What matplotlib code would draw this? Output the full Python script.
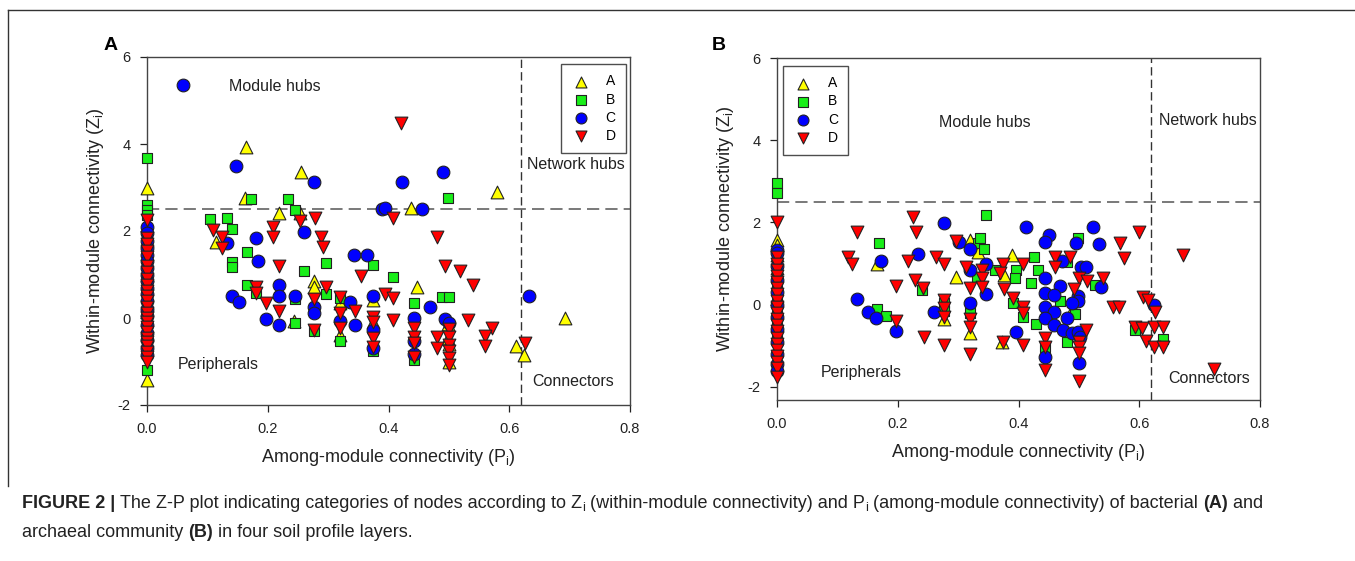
import matplotlib
matplotlib.use("Agg")
import matplotlib.pyplot as plt
from matplotlib.lines import Line2D
from matplotlib.transforms import IdentityTransform

plt.rcParams['font.family'] = ['Liberation Sans', 'DejaVu Sans']
plt.rcParams['mathtext.fontset'] = 'custom'
plt.rcParams['mathtext.rm'] = 'Liberation Sans'
plt.rcParams['mathtext.it'] = 'Liberation Sans'

# ---------------- Panel A data (bacteria) ----------------
a_A_P = [0, 0, 0, 0, 0, 0,
         0.164, 0.255, 0.163, 0.219, 0.253, 0.115, 0.277, 0.277, 0.320, 0.244, 0.375, 0.375,
         0.320, 0.437, 0.579, 0.448, 0.499, 0.499, 0.500, 0.500, 0.693, 0.611, 0.624]
a_A_Z = [2.98, 1.80, 1.00, 0.30, -0.40, -1.43,
         3.92, 3.36, 2.75, 2.41, 2.41, 1.75, 0.86, 0.71, 0.34, -0.06, 0.41, -0.10,
         -0.40, 2.54, 2.90, 0.71, -0.14, -0.47, -0.60, -1.00, -0.01, -0.64, -0.85]

a_B_P = [0, 0, 0, 0, 0, 0, 0, 0, 0,
         0.172, 0.234, 0.245, 0.104, 0.132, 0.141, 0.165, 0.141, 0.141, 0.260, 0.297, 0.374,
         0.165, 0.180, 0.245, 0.277, 0.297, 0.320, 0.320, 0.407, 0.245, 0.375,
         0.498, 0.443, 0.488, 0.501, 0.443]
a_B_Z = [3.67, 2.60, 2.48, 2.37, 0.95, 0.55, 0.10, -0.60, -1.20,
         2.74, 2.74, 2.48, 2.27, 2.31, 2.05, 1.52, 1.28, 1.18, 1.09, 1.26, 1.22,
         0.76, 0.57, 0.43, -0.31, 0.55, 0.45, -0.54, 0.95, -0.11, -0.77,
         2.75, 0.34, 0.49, 0.49, -0.97]

a_C_P = [0, 0, 0, 0, 0, 0, 0, 0, 0, 0, 0, 0, 0, 0, 0, 0, 0, 0, 0,
         0.059, 0.148, 0.277, 0.423, 0.390, 0.394, 0.260, 0.180, 0.132, 0.184, 0.343, 0.364,
         0.218, 0.141, 0.152, 0.218, 0.245, 0.277, 0.277, 0.197, 0.218, 0.320, 0.336, 0.345,
         0.375, 0.375, 0.375, 0.491, 0.456, 0.468, 0.443, 0.443, 0.443, 0.494, 0.501, 0.633]
a_C_Z = [2.10, 1.95, 1.78, 1.60, 1.45, 1.30, 1.15, 1.00, 0.85, 0.70, 0.55, 0.40, 0.20, 0.05,
         -0.15, -0.35, -0.50, -0.70, -0.85,
         5.36, 3.49, 3.12, 3.12, 2.51, 2.53, 1.98, 1.85, 1.72, 1.32, 1.45, 1.45,
         0.76, 0.51, 0.37, 0.51, 0.51, 0.25, 0.11, -0.03, -0.16, -0.06, 0.37, -0.16,
         0.51, -0.28, -0.70, 3.36, 2.51, 0.25, -0.01, -0.54, -0.83, -0.03, -0.12, 0.51]

a_D_P = [0, 0, 0, 0, 0, 0, 0, 0, 0, 0, 0, 0, 0, 0, 0, 0, 0, 0, 0, 0, 0, 0, 0, 0,
         0.110, 0.124, 0.124, 0.208, 0.208, 0.219, 0.253, 0.278, 0.289, 0.291, 0.354,
         0.180, 0.180, 0.197, 0.218, 0.277, 0.297, 0.277, 0.320, 0.320, 0.320, 0.345,
         0.375, 0.375, 0.375, 0.375, 0.395, 0.408, 0.408, 0.407, 0.421,
         0.480, 0.494, 0.518, 0.540, 0.443, 0.443, 0.443, 0.443, 0.480, 0.480,
         0.501, 0.501, 0.501, 0.501, 0.501, 0.501, 0.531, 0.571, 0.560, 0.560, 0.626]
a_D_Z = [2.25, 1.85, 1.70, 1.55, 1.40, 1.20, 1.05, 0.90, 0.75, 0.62, 0.50, 0.38, 0.25,
         0.12, 0.00, -0.10, -0.20, -0.32, -0.45, -0.55, -0.65, -0.78, -0.90, -1.00,
         2.02, 1.87, 1.62, 2.09, 1.86, 1.20, 2.24, 2.29, 1.86, 1.63, 0.97,
         0.72, 0.57, 0.35, 0.15, 0.43, 0.72, -0.28, 0.49, 0.11, -0.24, 0.15,
         0.03, -0.09, -0.47, -0.66, 0.55, 0.45, -0.05, 2.29, 4.49,
         1.87, 1.20, 1.08, 0.77, -0.24, -0.43, -0.58, -0.89, -0.43, -0.70,
         -0.26, -0.43, -0.62, -0.77, -0.93, -1.08, -0.05, -0.24, -0.41, -0.64, -0.58]

# ---------------- Panel B data (archaea) ----------------
b_A_P = [0, 0, 0, 0, 0, 0,
         0.165, 0.296, 0.277, 0.320, 0.333, 0.320, 0.390, 0.376, 0.373, 0.491]
b_A_Z = [1.57, 1.45, 1.20, 0.90, 0.20, -0.50,
         0.99, 0.68, -0.36, 1.57, 1.29, -0.68, 1.21, 0.72, -0.90, -0.09]

b_B_P = [0, 0, 0, 0, 0, 0, 0, 0, 0,
         0.169, 0.165, 0.180, 0.240, 0.277, 0.277, 0.320, 0.333, 0.337, 0.343, 0.346,
         0.331, 0.361, 0.396, 0.394, 0.425, 0.433, 0.420, 0.499, 0.481, 0.526, 0.391,
         0.408, 0.469, 0.494, 0.429, 0.480, 0.593, 0.640, 0.444]
b_B_Z = [2.95, 2.71, 1.10, 0.80, 0.50, 0.15, -0.10, -0.40, -0.70,
         1.51, -0.10, -0.28, 0.36, 0.03, -0.15, -0.21, 1.51, 1.63, 1.35, 2.18,
         0.68, 0.84, 0.84, 0.66, 1.17, 0.84, 0.52, 1.61, 1.04, 0.48, 0.03,
         -0.29, 0.09, -0.23, -0.48, -0.92, -0.62, -0.84, -1.02]

b_C_P = [0, 0, 0, 0, 0, 0, 0, 0, 0, 0, 0, 0,
         0.172, 0.132, 0.151, 0.164, 0.197, 0.234, 0.276, 0.260, 0.302, 0.320, 0.320,
         0.346, 0.346, 0.320, 0.396, 0.413, 0.524, 0.451, 0.444, 0.496, 0.533, 0.472,
         0.503, 0.512, 0.444, 0.536, 0.468, 0.444, 0.459, 0.499, 0.499, 0.488, 0.625,
         0.444, 0.459, 0.444, 0.459, 0.480, 0.473, 0.488, 0.499, 0.502, 0.501, 0.444]
b_C_Z = [1.33, 1.25, 0.95, 0.60, 0.30, 0.00, -0.30, -0.60, -0.90, -1.20, -1.45, -1.62,
         1.07, 0.14, -0.17, -0.32, -0.64, 1.22, 1.99, -0.17, 1.53, 1.35, 0.84,
         1.00, 0.27, 0.03, -0.66, 1.88, 1.90, 1.69, 1.53, 1.49, 1.47, 1.07,
         0.91, 0.91, 0.66, 0.44, 0.45, 0.29, 0.23, 0.21, 0.09, 0.03, -0.01,
         -0.05, -0.17, -0.32, -0.50, -0.33, -0.62, -0.70, -0.66, -0.78, -1.41, -1.27]

b_D_P = [0, 0, 0, 0, 0, 0, 0, 0, 0, 0, 0, 0, 0, 0, 0, 0, 0, 0, 0, 0, 0,
         0.132, 0.117, 0.124, 0.197, 0.197, 0.225, 0.230, 0.217, 0.229, 0.242, 0.243,
         0.264, 0.277, 0.277, 0.277, 0.277, 0.277, 0.296, 0.313, 0.339, 0.339, 0.339,
         0.320, 0.320, 0.320, 0.320, 0.375, 0.369, 0.376, 0.391, 0.375, 0.408, 0.408,
         0.408, 0.407, 0.460, 0.460, 0.485, 0.568, 0.574, 0.600, 0.501, 0.513, 0.540,
         0.492, 0.557, 0.567, 0.607, 0.615, 0.626, 0.512, 0.501, 0.501, 0.501, 0.501,
         0.444, 0.444, 0.444, 0.593, 0.604, 0.611, 0.624, 0.640, 0.624, 0.640, 0.673, 0.723]
b_D_Z = [2.02, 1.15, 1.00, 0.85, 0.70, 0.55, 0.40, 0.25, 0.10, -0.05, -0.20, -0.35,
         -0.50, -0.65, -0.80, -0.95, -1.10, -1.25, -1.40, -1.55, -1.75,
         1.77, 1.17, 0.99, 0.45, -0.40, 2.14, 1.77, 1.07, 0.60, 0.40, -0.78,
         1.15, 1.00, 0.11, -0.09, -0.31, -0.98, 1.55, 0.92, 0.84, 0.64, 0.44,
         0.40, -0.36, -0.55, -1.19, 0.99, 0.76, 0.37, 0.17, -0.90, 1.00, -0.05,
         -0.21, -0.98, 1.15, 0.92, 1.15, 1.49, 1.13, 1.77, 0.64, 0.58, 0.64,
         0.37, -0.05, -0.05, 0.19, 0.11, -0.19, -0.62, -0.90, -1.02, -1.18, -1.85,
         -0.82, -1.02, -1.59, -0.55, -0.58, -0.88, -0.55, -0.55, -1.02, -1.02, 1.21, -1.57]

series_labels = ['A', 'B', 'C', 'D']
markers = ['^', 's', 'o', 'v']
colors = ['#FFFF00', '#19EE19', '#0000FF', '#FF0000']
sizes = [84, 60, 84, 84]

xticks = [0.0, 0.2, 0.4, 0.6, 0.8]
xticklabels = ['0.0', '0.2', '0.4', '0.6', '0.8']
yticks = [-2, 0, 2, 4, 6]
yticklabels = ['-2', '0', '2', '4', '6']

W, H = 1355, 561
fig = plt.figure(figsize=(W / 100, H / 100), dpi=100)


def px_rect(l, r, t, b):
    return [l / W, 1 - b / H, (r - l) / W, (b - t) / H]


axA = fig.add_axes(px_rect(147, 630, 57, 405))
axB = fig.add_axes(px_rect(777, 1260, 58, 400))

panels = [
    (axA, [(a_A_P, a_A_Z), (a_B_P, a_B_Z), (a_C_P, a_C_Z), (a_D_P, a_D_Z)], (-2, 6)),
    (axB, [(b_A_P, b_A_Z), (b_B_P, b_B_Z), (b_C_P, b_C_Z), (b_D_P, b_D_Z)], (-2.32, 6)),
]

for ax, data, ylim in panels:
    for (px, pz), lab, mk, col, s in zip(data, series_labels, markers, colors, sizes):
        ax.scatter(px, pz, marker=mk, s=s, c=col, edgecolors='#222222',
                   linewidths=0.8, label=lab, zorder=3, clip_on=False)
    ax.axhline(2.5, color='#555555', lw=1.1, dashes=(8, 4), zorder=2)
    ax.axvline(0.62, color='#333333', lw=1.0, dashes=(6, 3), zorder=2)
    ax.set_xlim(0, 0.8)
    ax.set_ylim(*ylim)
    ax.set_xticks(xticks)
    ax.set_xticklabels(xticklabels)
    ax.set_yticks(yticks)
    ax.set_yticklabels(yticklabels)
    ax.tick_params(direction='out', length=5, width=0.9, labelsize=10.5, colors='#222222',
                   pad=7)
    for sp in ax.spines.values():
        sp.set_color('#444444')
        sp.set_linewidth(1.0)
    ax.set_xlabel('Among-module connectivity (P$_\\mathregular{i}$)', fontsize=13,
                  labelpad=8, color='#222222')
    ax.set_ylabel('Within-module connectivity (Z$_\\mathregular{i}$)', fontsize=13,
                  labelpad=8, color='#222222')

# Region annotations
txt_kw = dict(fontsize=11.5, color='#222222', ha='center', va='center')
axA.text(0.212, 5.32, 'Module hubs', **txt_kw)
axA.text(0.118, -1.08, 'Peripherals', **txt_kw)
axA.text(0.71, 3.54, 'Network hubs', **txt_kw)
axA.text(0.706, -1.45, 'Connectors', **txt_kw)
axB.text(0.344, 4.42, 'Module hubs', **txt_kw)
axB.text(0.714, 4.47, 'Network hubs', **txt_kw)
axB.text(0.716, -1.79, 'Connectors', **txt_kw)
axB.text(0.139, -1.64, 'Peripherals', **txt_kw)

leg_kw = dict(fontsize=10, frameon=True, fancybox=False, edgecolor='#222222',
              borderpad=0.75, labelspacing=0.3, handletextpad=1.1, handlelength=1.4,
              borderaxespad=0)
legA = axA.legend(loc='upper right', bbox_to_anchor=(0.992, 0.980), **leg_kw)
legB = axB.legend(loc='upper left', bbox_to_anchor=(0.012, 0.977), **leg_kw)
for lg in (legA, legB):
    lg.get_frame().set_linewidth(1.0)
    for h in lg.legend_handles:
        h.set_sizes([62])

# Panel letters
fig.text(104 / W, 1 - 45 / H, 'A', fontsize=14, fontweight='bold', va='center', ha='left')
fig.text(712 / W, 1 - 45 / H, 'B', fontsize=14, fontweight='bold', va='center', ha='left')

# Outer frame
fig.add_artist(Line2D([8 / W, 8 / W], [1 - 10 / H, 1 - 486 / H], transform=fig.transFigure,
                      color='#333333', lw=1.0))
fig.add_artist(Line2D([8 / W, 1.0], [1 - 10 / H, 1 - 10 / H], transform=fig.transFigure,
                      color='#333333', lw=1.0))

# Caption with mixed runs
renderer = fig.canvas.get_renderer()


def draw_runs(x0, y0, runs, size):
    x = x0
    for text, weight, sub in runs:
        sz = size * (0.7 if sub else 1.0)
        dy = -3 if sub else 0
        t = fig.text(x, H - y0 + dy, text, fontsize=sz, fontweight=weight,
                     transform=IdentityTransform(), va='baseline', ha='left',
                     color='#222222')
        x += t.get_window_extent(renderer).width
    return x


line1 = [('FIGURE 2 | ', 'bold', False),
         ('The Z-P plot indicating categories of nodes according to Z', 'normal', False),
         ('i', 'normal', True),
         (' (within-module connectivity) and P', 'normal', False),
         ('i', 'normal', True),
         (' (among-module connectivity) of bacterial ', 'normal', False),
         ('(A)', 'bold', False),
         (' and', 'normal', False)]
line2 = [('archaeal community ', 'normal', False),
         ('(B)', 'bold', False),
         (' in four soil profile layers.', 'normal', False)]

cap_size = 13.0
draw_runs(22, 508, line1, cap_size)
draw_runs(22, 537, line2, cap_size)

fig.savefig('out.png', dpi=100)
